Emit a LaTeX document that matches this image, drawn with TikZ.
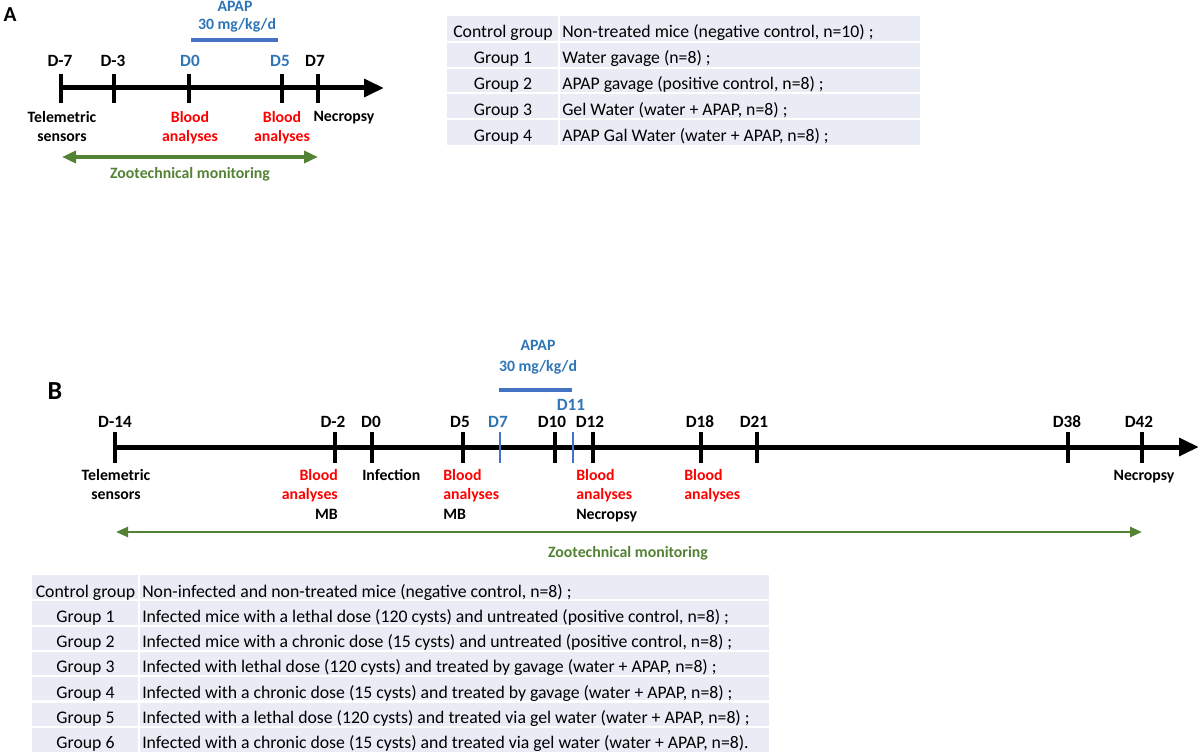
\documentclass[tikz,border=0pt]{standalone}
\usepackage{fontspec}
\setmainfont{Carlito}
\usetikzlibrary{arrows.meta}
\definecolor{dblue}{HTML}{2E75B6}
\definecolor{barblue}{HTML}{4472C4}
\definecolor{zgreen}{HTML}{548235}
\definecolor{tabfill}{HTML}{E9EBF5}
\definecolor{lred}{HTML}{FF0000}
\begin{document}
\begin{tikzpicture}[x=0.75pt,y=-0.75pt,
 lbl/.style={font=\fontsize{11.85pt}{14.6pt}\selectfont\bfseries, inner sep=0pt, anchor=base},
 dlbl/.style={font=\fontsize{12.9pt}{15pt}\selectfont\bfseries, inner sep=0pt, anchor=base},
 tab/.style={font=\fontsize{13.3pt}{16pt}\selectfont, inner sep=0pt, anchor=base},
 tabl/.style={tab, anchor=base west},
 axisline/.style={line width=3.75pt, -{Triangle[length=15pt,width=13pt]}},
 tickline/.style={line width=2.5pt},
 btickline/.style={line width=1.6pt, barblue},
 barline/.style={line width=3.4pt, barblue},
 zooA/.style={zgreen, line width=3pt, {Triangle[length=10.5pt,width=9pt]}-{Triangle[length=10.5pt,width=9pt]}},
 zooB/.style={zgreen, line width=1.9pt, {Triangle[length=9pt,width=7.5pt]}-{Triangle[length=9pt,width=7.5pt]}},
 sep/.style={white, line width=1.6pt}
]
\useasboundingbox (0,0) rectangle (1200,752);

%% ---------------- Panel A ----------------
\node[inner sep=0pt, font=\fontsize{16pt}{18pt}\selectfont\bfseries] (labA) at (10,15) {A};
\coordinate (aStart) at (61,88);
\coordinate (aEnd) at (384,88);
\draw[axisline] (aStart) -- (aEnd);
\foreach \x in {61,114,189,282,318} \draw[tickline] (\x,74) -- (\x,103);
\node[dlbl] (aDm7) at (60,67) {D-7};
\node[dlbl] (aDm3) at (113,67) {D-3};
\node[dlbl, dblue] (aD0) at (190,67) {D0};
\node[dlbl, dblue] (aD5) at (280,67) {D5};
\node[dlbl] (aD7) at (315,67) {D7};
\node[lbl, dblue] (aApap) at (235,12) {APAP};
\node[lbl, dblue] (aDose) at (237,30) {30 mg/kg/d};
\coordinate (aBarS) at (191,40);
\coordinate (aBarE) at (278,40);
\draw[barline] (aBarS) -- (aBarE);
\node[lbl, align=center] (aTel) at (62,141.5) {Telemetric\\sensors};
\node[lbl, align=center, lred] (aBl1) at (190,141.5) {Blood\\analyses};
\node[lbl, align=center, lred] (aBl2) at (282,141.5) {Blood\\analyses};
\node[lbl] (aNec) at (344,122) {Necropsy};
\coordinate (aZs) at (62,157);
\coordinate (aZe) at (318,157);
\draw[zooA] (aZs) -- (aZe);
\node[lbl, zgreen] (aZoo) at (190,179) {Zootechnical monitoring};

%% ---------------- Table A ----------------
\fill[tabfill] (447,16) rectangle (920,145);
\foreach \y in {41.8,67.6,93.4,119.2} \draw[sep] (447,\y) -- (920,\y);
\draw[sep] (559,16) -- (559,145);
\node[tab] (tAc) at (503,38) {Control group};
\node[tab] (tA1) at (503,63.8) {Group 1};
\node[tab] (tA2) at (503,89.6) {Group 2};
\node[tab] (tA3) at (503,115.4) {Group 3};
\node[tab] (tA4) at (503,141.2) {Group 4};
\node[tabl] (tAcT) at (562,38) {Non-treated mice (negative control, n=10) ;};
\node[tabl] (tA1T) at (562,63.8) {Water gavage (n=8) ;};
\node[tabl] (tA2T) at (562,89.6) {APAP gavage (positive control, n=8) ;};
\node[tabl] (tA3T) at (562,115.4) {Gel Water (water + APAP, n=8) ;};
\node[tabl] (tA4T) at (562,141.2) {APAP Gal Water (water + APAP, n=8) ;};

%% ---------------- Panel B ----------------
\node[inner sep=0pt, font=\fontsize{19.5pt}{22pt}\selectfont\bfseries] (labB) at (55,391) {B};
\coordinate (bStart) at (115,447);
\coordinate (bEnd) at (1199,447);
\draw[axisline] (bStart) -- (bEnd);
\foreach \x in {115,335,372,463,555,593,701,757,1068,1142} \draw[tickline] (\x,432) -- (\x,463);
\foreach \x in {500,573} \draw[btickline] (\x,432) -- (\x,463);
\node[dlbl] (bDm14) at (115,427) {D-14};
\node[dlbl] (bDm2) at (333,427) {D-2};
\node[dlbl] (bD0) at (371,427) {D0};
\node[dlbl] (bD5) at (460,427) {D5};
\node[dlbl, dblue] (bD7) at (498,427) {D7};
\node[dlbl] (bD10) at (552,427) {D10};
\node[dlbl, dblue] (bD11) at (571,410) {D11};
\node[dlbl] (bD12) at (590,427) {D12};
\node[dlbl] (bD18) at (700,427) {D18};
\node[dlbl] (bD21) at (754,427) {D21};
\node[dlbl] (bD38) at (1067,427) {D38};
\node[dlbl] (bD42) at (1139,427) {D42};
\node[lbl, dblue] (bApap) at (538,351) {APAP};
\node[lbl, dblue] (bDose) at (538,372) {30 mg/kg/d};
\coordinate (bBarS) at (499,390);
\coordinate (bBarE) at (572,390);
\draw[barline] (bBarS) -- (bBarE);
\node[lbl, align=center] (bTel) at (116,499.5) {Telemetric\\sensors};
\node[lbl, align=right, anchor=base east] (bBl1) at (338,519) {\textcolor{lred}{Blood}\\\textcolor{lred}{analyses}\\MB};
\node[lbl, anchor=base west] (bInf) at (362,480) {Infection};
\node[lbl, align=left, anchor=base west] (bBl2) at (443,519) {\textcolor{lred}{Blood}\\\textcolor{lred}{analyses}\\MB};
\node[lbl, align=left, anchor=base west] (bBl3) at (576,519) {\textcolor{lred}{Blood}\\\textcolor{lred}{analyses}\\Necropsy};
\node[lbl, align=left, anchor=base west, lred] (bBl4) at (684,499.5) {Blood\\analyses};
\node[lbl] (bNec) at (1144,480) {Necropsy};
\coordinate (bZs) at (116,532);
\coordinate (bZe) at (1142,532);
\draw[zooB] (bZs) -- (bZe);
\node[lbl, zgreen] (bZoo) at (628,557) {Zootechnical monitoring};

%% ---------------- Table B ----------------
\fill[tabfill] (32,575) rectangle (769,753);
\foreach \y in {600.3,625.6,650.9,676.2,701.5,726.8} \draw[sep] (32,\y) -- (769,\y);
\draw[sep] (139,575) -- (139,753);
\node[tab] (tBc) at (85.5,597) {Control group};
\node[tab] (tB1) at (85.5,622.3) {Group 1};
\node[tab] (tB2) at (85.5,647.6) {Group 2};
\node[tab] (tB3) at (85.5,672.9) {Group 3};
\node[tab] (tB4) at (85.5,698.2) {Group 4};
\node[tab] (tB5) at (85.5,723.5) {Group 5};
\node[tab] (tB6) at (85.5,748.8) {Group 6};
\node[tabl] (tBcT) at (142,597) {Non-infected and non-treated mice (negative control, n=8) ;};
\node[tabl] (tB1T) at (142,622.3) {Infected mice with a lethal dose (120 cysts) and untreated (positive control, n=8) ;};
\node[tabl] (tB2T) at (142,647.6) {Infected mice with a chronic dose (15 cysts) and untreated (positive control, n=8) ;};
\node[tabl] (tB3T) at (142,672.9) {Infected with lethal dose (120 cysts) and treated by gavage (water + APAP, n=8) ;};
\node[tabl] (tB4T) at (142,698.2) {Infected with a chronic dose (15 cysts) and treated by gavage (water + APAP, n=8) ;};
\node[tabl] (tB5T) at (142,723.5) {Infected with a lethal dose (120 cysts) and treated via gel water (water + APAP, n=8) ;};
\node[tabl] (tB6T) at (142,748.8) {Infected with a chronic dose (15 cysts) and treated via gel water (water + APAP, n=8).};
\end{tikzpicture}
\end{document}
